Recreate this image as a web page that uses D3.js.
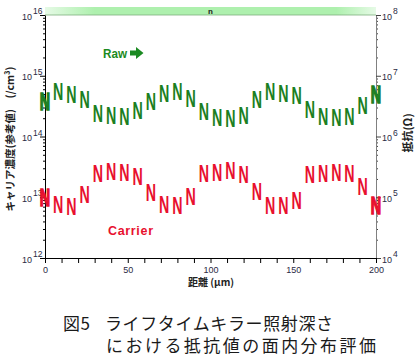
<!DOCTYPE html>
<html><head><meta charset="utf-8">
<script src="https://cdn.jsdelivr.net/npm/d3@7"></script>
<style>body{margin:0;background:#fff}svg{display:block}</style></head>
<body><svg id="c" width="420" height="358"></svg>
<script>
// ---- data ----
const distance = [0,8,16,24,32,40,48,56,64,72,80,88,96,104,112,120,128,136,144,152,160,168,176,184,192,200];
const rawResistance = [3.74e6,5.46e6,4.88e6,3.99e6,2.41e6,2.16e6,2.12e6,2.70e6,3.74e6,5.14e6,5.46e6,4.11e6,2.53e6,2.02e6,1.94e6,2.20e6,3.99e6,5.46e6,5.14e6,4.68e6,2.73e6,2.12e6,2.00e6,2.12e6,3.20e6,4.82e6];
const carrierConc = [9.7e12,7.45e12,6.92e12,1.11e13,2.41e13,2.61e13,2.55e13,2.18e13,1.20e13,7.45e12,7.23e12,1.02e13,2.46e13,2.55e13,2.70e13,2.32e13,1.23e13,7.23e12,7.23e12,8.74e12,2.32e13,2.41e13,2.55e13,2.41e13,1.48e13,7.23e12];
const leftTickValues = [1e12,1e13,1e14,1e15,1e16];
const leftTickExp = ["12","13","14","15","16"];
const rightTickValues = [1e4,1e5,1e6,1e7,1e8];
const rightTickExp = ["4","5","6","7","8"];
const xTickValues = [0,50,100,150,200];
const xMinorTicks = [0,10,20,30,40,50,60,70,80,90,100,110,120,130,140,150,160,170,180,190,200];
const leftLabel = "キャリア濃度(参考値)　(/cm³)";
const rightLabel = "抵抗(Ω)";
const xLabel = "距離 (μm)";
const captionLine1a = "図5";
const captionLine1b = "ライフタイムキラー照射深さ";
const captionLine2 = "における抵抗値の面内分布評価";
const markerChar = "N";

// ---- layout ----
const L = 45, R = 376, T = 15, B = 258;
const svg = d3.select("#c");
const x = d3.scaleLinear().domain([0,200]).range([L,R]);
const yL = d3.scaleLog().domain([1e12,1e16]).range([B,T]);
const yR = d3.scaleLog().domain([1e4,1e8]).range([B,T]);
const tickColor = "#2a2a44";

// top band
const defs = svg.append("defs");
const g = defs.append("linearGradient").attr("id","band").attr("x1","0").attr("x2","1").attr("y1","0").attr("y2","0");
[[0,"#e6fae6"],[0.15,"#aef0ae"],[0.88,"#aef0ae"],[1,"#e6fae6"]].forEach(s=>g.append("stop").attr("offset",s[0]).attr("stop-color",s[1]));
svg.append("rect").attr("x",L).attr("y",7).attr("width",R-L).attr("height",T-7).attr("fill","url(#band)");
svg.append("line").attr("x1",L).attr("x2",R).attr("y1",T).attr("y2",T).attr("stroke","#7fae7f").attr("stroke-width",0.8);
svg.append("text").attr("x",x(100)).attr("y",14).attr("text-anchor","middle")
  .attr("font-family","Liberation Sans").attr("font-weight","bold").attr("font-size",8).attr("fill","#222").text("n");

// left axis
const minorL = yL.ticks().filter(v=>!leftTickValues.includes(v));
svg.append("g").attr("transform",`translate(${L},0)`).call(d3.axisLeft(yL).tickValues(minorL).tickSize(2).tickFormat(""))
  .call(s=>{s.select(".domain").remove(); s.selectAll("line").attr("stroke","#000");});
const la = svg.append("g").attr("transform",`translate(${L},0)`).call(d3.axisLeft(yL).tickValues(leftTickValues).tickSize(5).tickSizeOuter(0).tickFormat(""));
la.select(".domain").attr("stroke","#000");
la.selectAll(".tick").each(function(d,i){
  const t = d3.select(this).append("text").attr("fill",tickColor).attr("font-family","Liberation Sans").attr("font-size",9).attr("x",-13).attr("y",4).attr("text-anchor","end");
  t.text("10");
  d3.select(this).append("text").attr("fill",tickColor).attr("font-family","Liberation Sans").attr("font-size",8.5).attr("x",-12).attr("y",-1.5).attr("text-anchor","start").text(leftTickExp[i]);
});

// right axis
const minorR = yR.ticks().filter(v=>!rightTickValues.includes(v));
svg.append("g").attr("transform",`translate(${R},0)`).call(d3.axisRight(yR).tickValues(minorR).tickSize(2).tickFormat(""))
  .call(s=>{s.select(".domain").remove(); s.selectAll("line").attr("stroke","#444");});
const ra = svg.append("g").attr("transform",`translate(${R},0)`).call(d3.axisRight(yR).tickValues(rightTickValues).tickSize(5).tickSizeOuter(0).tickFormat(""));
ra.select(".domain").attr("stroke","#808080");
ra.selectAll("line").attr("stroke","#444");
ra.selectAll(".tick").each(function(d,i){
  d3.select(this).append("text").attr("fill",tickColor).attr("font-family","Liberation Sans").attr("font-size",9).attr("x",6).attr("y",4).text("10");
  d3.select(this).append("text").attr("fill",tickColor).attr("font-family","Liberation Sans").attr("font-size",8.5).attr("x",17).attr("y",-1.5).text(rightTickExp[i]);
});

// bottom axis
svg.append("g").attr("transform",`translate(0,${B})`).call(d3.axisBottom(x).tickValues(xMinorTicks).tickSize(5).tickSizeOuter(0).tickFormat(""))
  .call(s=>{s.select(".domain").attr("stroke","#000"); s.selectAll("line").attr("stroke","#000");});
const xa = svg.append("g").attr("transform",`translate(0,${B})`).call(d3.axisBottom(x).tickValues(xTickValues).tickSize(0).tickPadding(9).tickFormat(d3.format("d")));
xa.select(".domain").remove();
xa.selectAll("text").attr("fill",tickColor).attr("font-family","Liberation Sans").attr("font-size",9);

// axis titles
svg.append("text").attr("x",211).attr("y",286).attr("text-anchor","middle").attr("font-family","Noto Sans CJK JP").attr("font-weight","bold").attr("font-size",10).attr("fill","#222").text(xLabel);
svg.append("text").attr("transform","translate(14,139) rotate(-90)").attr("text-anchor","middle").attr("font-family","Noto Sans CJK JP").attr("font-weight","bold").attr("font-size",10.5).attr("fill","#222").text(leftLabel);
svg.append("text").attr("transform","translate(412,133) rotate(-90)").attr("text-anchor","middle").attr("font-family","Noto Sans CJK JP").attr("font-weight","bold").attr("font-size",11).attr("fill","#222").text(rightLabel);

// markers
const fs = 23, capH = 0.716*fs;
function drawSeries(vals, yScale, color){
  const gg = svg.append("g");
  gg.selectAll("text").data(distance).join("text")
    .attr("transform",(d,i)=>`translate(${x(d)},${yScale(vals[i])}) scale(0.62,1)`)
    .attr("y",capH/2).attr("text-anchor","middle")
    .attr("font-family","Liberation Sans").attr("font-weight","bold").attr("font-size",fs)
    .attr("fill",color)
    .attr("stroke",(d,i)=> (i===0||i===distance.length-1)?color:"none").attr("stroke-width",1.6)
    .text(markerChar);
}
drawSeries(rawResistance, yR, "#1b7f22");
drawSeries(carrierConc, yL, "#e8102e");

// annotations
svg.append("text").attr("x",103).attr("y",58).attr("font-family","Liberation Sans").attr("font-weight","bold").attr("font-size",13).attr("textLength",24).attr("lengthAdjust","spacingAndGlyphs").attr("fill","#1b8a22").text("Raw");
svg.append("path").attr("d","M130,50.5 H136 V47 L143.5,53 L136,59 V55.5 H130 Z").attr("fill","#1b8a22");
svg.append("text").attr("x",108).attr("y",235).attr("font-family","Liberation Sans").attr("font-weight","bold").attr("font-size",12.5).attr("textLength",45).attr("lengthAdjust","spacing").attr("fill","#e8102e").text("Carrier");

// caption
const cap = {"font-family":"Noto Sans CJK JP","font-size":17,"fill":"#1a1a1a"};
function ct(xp,yp,txt,len){const t=svg.append("text").attr("x",xp).attr("y",yp).text(txt);Object.entries(cap).forEach(([k,v])=>t.attr(k,v));if(len)t.attr("textLength",len).attr("lengthAdjust","spacing");return t;}
ct(63,330,captionLine1a,27);
ct(105,330,captionLine1b,228);
ct(106,352,captionLine2,270);
</script></body></html>
